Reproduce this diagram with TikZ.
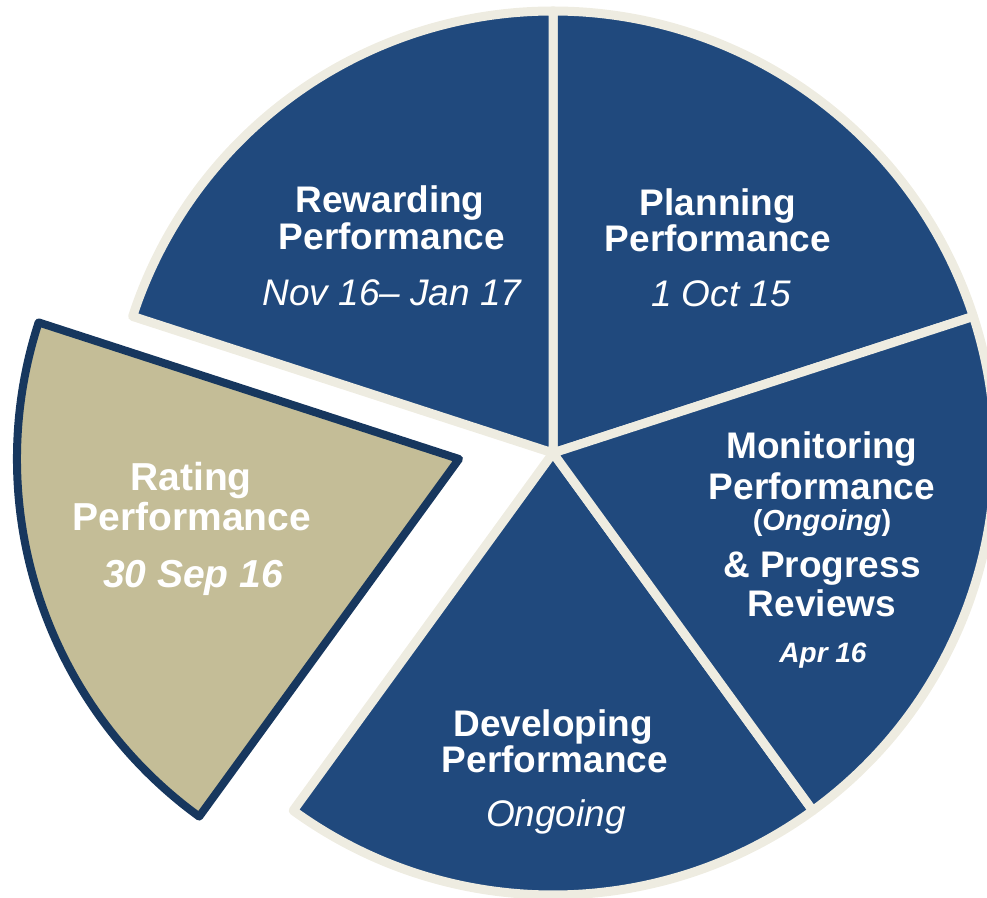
\documentclass[tikz,border=0pt]{standalone}
\usepackage{fontspec}
\setmainfont{Liberation Sans}
\definecolor{pieblue}{RGB}{32,73,125}
\definecolor{piecream}{HTML}{EEECE1}
\definecolor{pietan}{HTML}{C4BD97}
\definecolor{piedark}{HTML}{17375E}
\tikzset{
  slice/.style={fill=pieblue, draw=piecream, line width=9pt, line join=round},
  hislice/.style={fill=pietan, draw=piedark, line width=8pt, line join=round},
  lbl/.style={text=white, anchor=base, inner sep=0pt, font=\bfseries\fontsize{37}{40}\selectfont},
  sub/.style={text=white, anchor=base, inner sep=0pt, font=\itshape\fontsize{37}{40}\selectfont},
  rlbl/.style={text=white, anchor=base, inner sep=0pt, font=\bfseries\fontsize{39}{43}\selectfont}
}
\begin{document}
\begin{tikzpicture}[x=1pt,y=1pt]
\useasboundingbox (0,0) rectangle (987,897);
\coordinate (C) at (553,444);
\coordinate (R) at (459,438);
% blue slices
\draw[slice] (C) -- ++(18:442) arc[start angle=18, end angle=90, radius=442] -- cycle;
\draw[slice] (C) -- ++(90:442) arc[start angle=90, end angle=162, radius=442] -- cycle;
\draw[slice] (C) -- ++(234:442) arc[start angle=234, end angle=306, radius=442] -- cycle;
\draw[slice] (C) -- ++(-54:442) arc[start angle=-54, end angle=18, radius=442] -- cycle;
% exploded rating slice
\draw[hislice] (R) -- ++(162:442) arc[start angle=162, end angle=234, radius=442] -- cycle;
% Rewarding
\node[lbl] (rew1) at (390,684) {Rewarding};
\node[lbl] (rew2) at (392,647) {Performance};
\node[sub] (rew3) at (392,591) {Nov 16– Jan 17};
% Planning
\node[lbl] (pla1) at (718,681) {Planning};
\node[lbl] (pla2) at (718,645) {Performance};
\node[sub] (pla3) at (721,590) {1 Oct 15};
% Rating
\node[rlbl] (rat1) at (191,406) {Rating};
\node[rlbl] (rat2) at (192,366) {Performance};
\node[rlbl, font=\bfseries\itshape\fontsize{39}{43}\selectfont] (rat3) at (193,309) {30 Sep 16};
% Developing
\node[lbl] (dev1) at (553,161) {Developing};
\node[lbl] (dev2) at (555,125) {Performance};
\node[sub] (dev3) at (556,71) {Ongoing};
% Monitoring
\node[lbl] (mon1) at (822,438) {Monitoring};
\node[lbl] (mon2) at (822,397) {Performance};
\node[lbl, font=\bfseries\fontsize{29}{32}\selectfont] (mon3) at (822,366) {(\textit{Ongoing})};
\node[lbl] (mon4) at (822,319) {\& Progress};
\node[lbl] (mon5) at (822,280) {Reviews};
\node[lbl, font=\bfseries\itshape\fontsize{28}{31}\selectfont] (mon6) at (823,234) {Apr 16};
\end{tikzpicture}
\end{document}
